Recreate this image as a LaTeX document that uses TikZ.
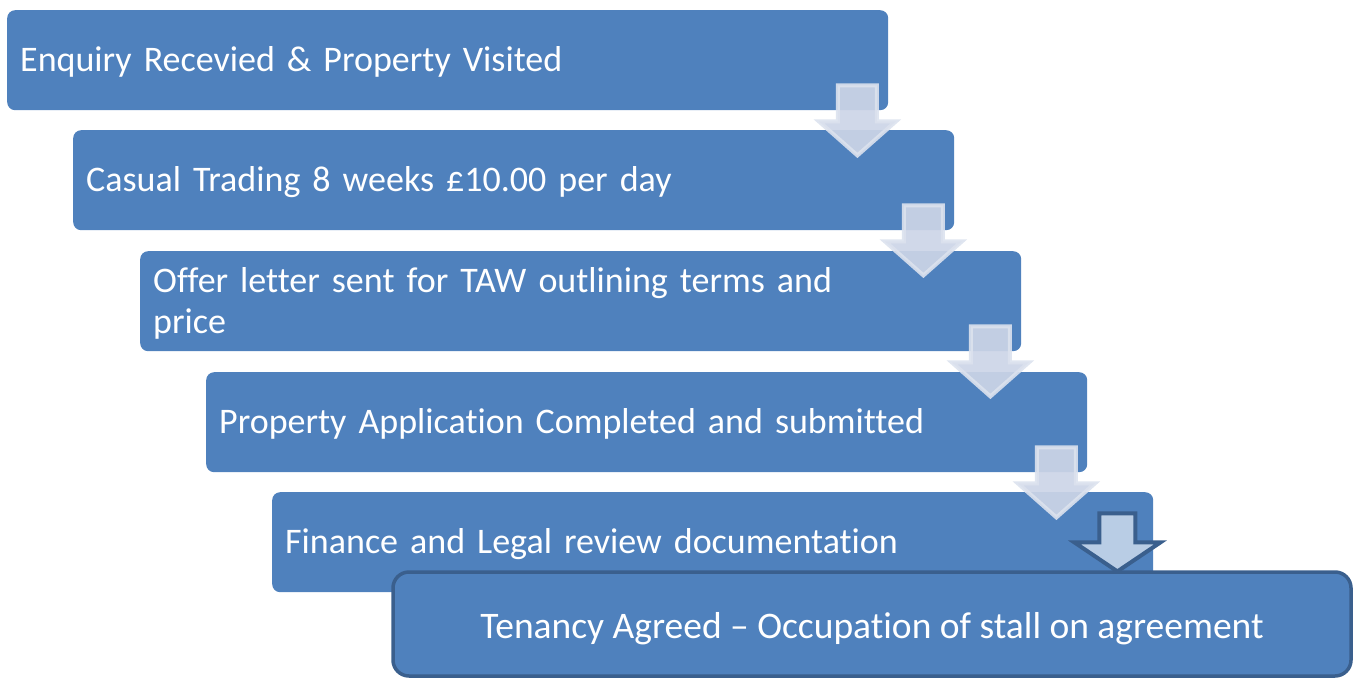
\documentclass[tikz,border=0pt]{standalone}
\usepackage{fontspec}
\setmainfont{Carlito}[Ligatures=NoCommon]
\usetikzlibrary{calc}
\definecolor{boxblue}{HTML}{4F81BD}
\definecolor{edgeblue}{HTML}{3A5F8D}
\definecolor{arrowfill}{HTML}{CCD5E7}
\definecolor{arrowedge}{HTML}{DCE2EE}
\definecolor{lastfill}{HTML}{B9CDE5}
% struts that fix the height of the first line and the depth of the last line
\newcommand\stepstrut{\rule[-9pt]{0pt}{41pt}}
\newcommand\finalstrut{\rule[-9pt]{0pt}{46pt}}
\begin{document}
\begin{tikzpicture}[x=1pt,y=-1pt,
  stepbox/.style={fill=boxblue, rounded corners=8pt, anchor=north west,
    minimum width=881pt, minimum height=100pt, inner xsep=13pt, inner ysep=0pt,
    text width=855pt, align=left, text=white,
    font=\fontsize{36}{41}\selectfont,
    execute at begin node=\stepstrut, execute at end node=\stepstrut},
  finalbox/.style={fill=boxblue, draw=edgeblue, line width=3.5pt, rounded corners=16pt,
    minimum width=958pt, minimum height=104pt, inner sep=0pt, text=white,
    font=\fontsize{37.5}{41}\selectfont, execute at begin node=\finalstrut},
  softarrow/.style={fill=arrowfill, fill opacity=0.92, draw=arrowedge, draw opacity=0.9,
    line width=4pt, line join=miter},
  strongarrow/.style={fill=lastfill, draw=edgeblue, line width=4pt, line join=miter},
  downarrow/.pic={
    \path[pic actions] (-19.5,2) -- (19.5,2) -- (19.5,38) -- (38.5,38) -- (0,72)
      -- (-38.5,38) -- (-19.5,38) -- cycle;},
  lastarrow/.pic={
    \path[pic actions] (-18,2) -- (18,2) -- (18,31) -- (43,31) -- (0,60)
      -- (-43,31) -- (-18,31) -- cycle;}
]
\useasboundingbox (0,0) rectangle (1357,680);

% process steps
\node[stepbox] (b1) at (7,10)   {Enquiry Recevied \& Property Visited};
\node[stepbox] (b2) at (73,130) {Casual Trading 8 weeks £10.00 per day};
\node[stepbox] (b3) at (140,251){Offer letter sent for TAW outlining terms and\\price};
\node[stepbox] (b4) at (206,372){Property Application Completed and submitted};
\node[stepbox] (b5) at (272,492){Finance and Legal review documentation};

% final outcome
\node[finalbox] (b6) at (872,624) {Tenancy Agreed – Occupation of stall on agreement};

% arrows between consecutive steps
\foreach \s in {b1,b2,b3,b4}
  \pic[softarrow] at ($(\s.south east)+(-31,-27)$) {downarrow};
\pic[strongarrow] at ($(b5.south east)+(-36,-81)$) {lastarrow};
\end{tikzpicture}
\end{document}
